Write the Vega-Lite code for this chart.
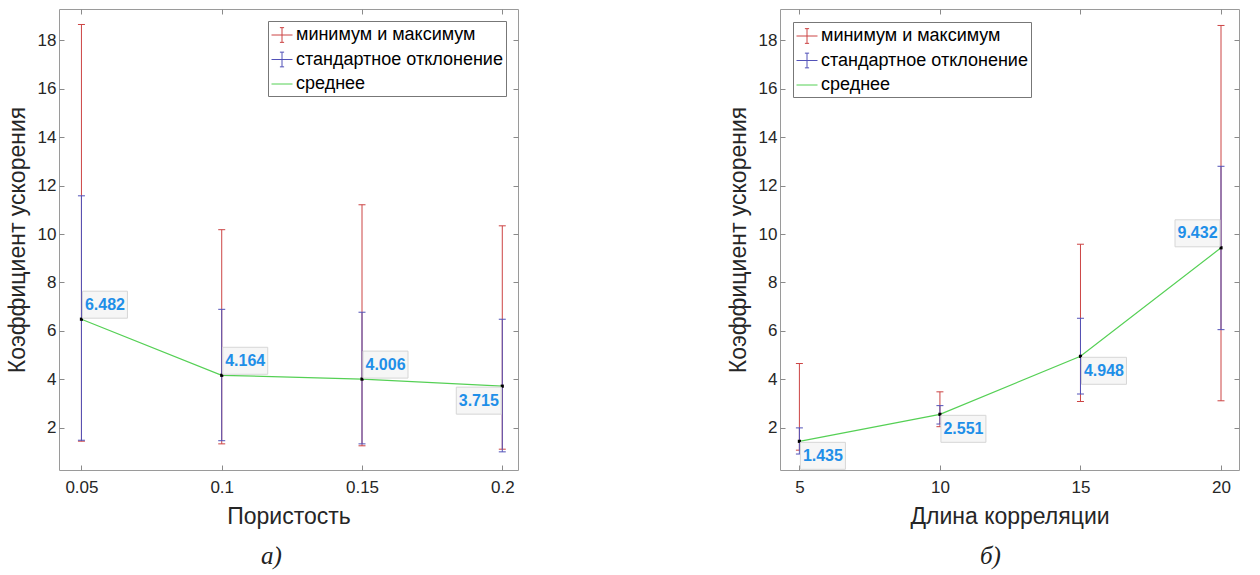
{
  "$schema": "https://vega.github.io/schema/vega-lite/v6.json",
  "background": "white",
  "padding": {"left": 5, "top": 8, "right": 5, "bottom": 0},
  "datasets": {
    "p1": [
      {"x": 0.05, "mn": 1.44, "mx": 18.66, "sdlo": 1.48, "sdhi": 11.58, "mean": 6.482},
      {"x": 0.1, "mn": 1.33, "mx": 10.18, "sdlo": 1.46, "sdhi": 6.89, "mean": 4.164},
      {"x": 0.15, "mn": 1.25, "mx": 11.21, "sdlo": 1.33, "sdhi": 6.77, "mean": 4.006},
      {"x": 0.2, "mn": 1.11, "mx": 10.34, "sdlo": 1.0, "sdhi": 6.48, "mean": 3.715}
    ],
    "p2": [
      {"x": 5, "mn": 1.07, "mx": 4.65, "sdlo": 0.91, "sdhi": 1.99, "mean": 1.435},
      {"x": 10, "mn": 2.04, "mx": 3.48, "sdlo": 2.15, "sdhi": 2.91, "mean": 2.551},
      {"x": 15, "mn": 3.08, "mx": 9.58, "sdlo": 3.39, "sdhi": 6.52, "mean": 4.948},
      {"x": 20, "mn": 3.11, "mx": 18.62, "sdlo": 6.05, "sdhi": 12.8, "mean": 9.432}
    ],
    "leg": [
      {"s": "минимум и максимум"},
      {"s": "стандартное отклонение"},
      {"s": "среднее"}
    ]
  },
  "spacing": 207,
  "resolve": {
    "scale": {"x": "independent", "y": "independent", "color": "independent", "shape": "independent"},
    "legend": {"color": "independent", "shape": "independent"}
  },
  "config": {
    "view": {"stroke": "#9a9a9a", "strokeWidth": 1},
    "axis": {
      "domain": false, "grid": false, "ticks": true, "tickSize": -5, "tickColor": "#8a8a8a",
      "labelFont": "Liberation Sans", "labelFontSize": 17, "labelColor": "#262626",
      "titleFont": "Liberation Sans", "titleFontSize": 23, "titleFontWeight": "normal", "titleColor": "#262626"
    },
    "title": {"font": "Liberation Serif", "fontStyle": "italic", "fontWeight": "normal", "fontSize": 25, "color": "#222"}
  },
  "hconcat": [
    {
      "width": 459, "height": 461,
      "title": {"text": "а)", "orient": "bottom", "anchor": "middle", "dx": -17, "offset": 16},
      "data": {"name": "p1"},
      "layer": [
        {
          "mark": {"type": "rule", "color": "#cc4444", "strokeWidth": 1},
          "encoding": {
            "x": {"field": "x", "type": "quantitative", "scale": {"domain": [0.042, 0.2056], "nice": false, "zero": false},
                  "axis": {"orient": "bottom", "title": "Пористость", "values": [0.05, 0.1, 0.15, 0.2], "format": "~g", "labelPadding": 14, "titlePadding": 10}},
            "y": {"field": "mn", "type": "quantitative", "scale": {"domain": [0.25, 19.3], "nice": false, "zero": false},
                  "axis": {"orient": "left", "title": "Коэффициент ускорения", "values": [2, 4, 6, 8, 10, 12, 14, 16, 18], "labelPadding": 8, "titlePadding": 8}},
            "y2": {"field": "mx"}
          }
        },
        {"mark": {"type": "point", "shape": "stroke", "size": 49, "filled": false, "color": "#cc4444", "strokeWidth": 1, "opacity": 1},
         "encoding": {"x": {"field": "x", "type": "quantitative", "axis": null}, "y": {"field": "mn", "type": "quantitative", "axis": null}}},
        {"mark": {"type": "point", "shape": "stroke", "size": 49, "filled": false, "color": "#cc4444", "strokeWidth": 1, "opacity": 1},
         "encoding": {"x": {"field": "x", "type": "quantitative", "axis": null}, "y": {"field": "mx", "type": "quantitative", "axis": null}}},
        {"mark": {"type": "rule", "color": "#5252b8", "strokeWidth": 1},
         "encoding": {"x": {"field": "x", "type": "quantitative", "axis": null}, "y": {"field": "sdlo", "type": "quantitative", "axis": null}, "y2": {"field": "sdhi"}}},
        {"mark": {"type": "point", "shape": "stroke", "size": 49, "filled": false, "color": "#5252b8", "strokeWidth": 1, "opacity": 1},
         "encoding": {"x": {"field": "x", "type": "quantitative", "axis": null}, "y": {"field": "sdlo", "type": "quantitative", "axis": null}}},
        {"mark": {"type": "point", "shape": "stroke", "size": 49, "filled": false, "color": "#5252b8", "strokeWidth": 1, "opacity": 1},
         "encoding": {"x": {"field": "x", "type": "quantitative", "axis": null}, "y": {"field": "sdhi", "type": "quantitative", "axis": null}}},
        {"mark": {"type": "line", "color": "#55d055", "strokeWidth": 1.2},
         "encoding": {
           "x": {"field": "x", "type": "quantitative", "axis": {"orient": "top", "labels": false, "title": null, "values": [0.05, 0.1, 0.15, 0.2]}},
           "y": {"field": "mean", "type": "quantitative", "axis": {"orient": "right", "labels": false, "title": null, "values": [2, 4, 6, 8, 10, 12, 14, 16, 18]}}
         }},
        {"mark": {"type": "square", "size": 10, "color": "#000", "opacity": 1},
         "encoding": {"x": {"field": "x", "type": "quantitative", "axis": null}, "y": {"field": "mean", "type": "quantitative", "axis": null}}},
        {"transform": [{"filter": "datum.x < 0.19"}],
         "mark": {"type": "point", "shape": "M-1,-0.6H1V0.6H-1Z", "size": 2025, "filled": true, "fill": "#f6f6f6", "stroke": "#d6d6d6", "strokeWidth": 1, "opacity": 1, "xOffset": 23.5, "yOffset": -14.5},
         "encoding": {"x": {"field": "x", "type": "quantitative", "axis": null}, "y": {"field": "mean", "type": "quantitative", "axis": null}}},
        {"transform": [{"filter": "datum.x > 0.19"}],
         "mark": {"type": "point", "shape": "M-1,-0.6H1V0.6H-1Z", "size": 2025, "filled": true, "fill": "#f6f6f6", "stroke": "#d6d6d6", "strokeWidth": 1, "opacity": 1, "xOffset": -23.5, "yOffset": 14.5},
         "encoding": {"x": {"field": "x", "type": "quantitative", "axis": null}, "y": {"field": "mean", "type": "quantitative", "axis": null}}},
        {"transform": [{"filter": "datum.x < 0.19"}],
         "mark": {"type": "text", "font": "Liberation Sans", "fontWeight": "bold", "fontSize": 16, "color": "#1f8fe8", "align": "center", "baseline": "middle", "dx": 23.5, "dy": -14.5},
         "encoding": {"x": {"field": "x", "type": "quantitative", "axis": null}, "y": {"field": "mean", "type": "quantitative", "axis": null}, "text": {"field": "mean", "type": "quantitative", "format": ".3f"}}},
        {"transform": [{"filter": "datum.x > 0.19"}],
         "mark": {"type": "text", "font": "Liberation Sans", "fontWeight": "bold", "fontSize": 16, "color": "#1f8fe8", "align": "center", "baseline": "middle", "dx": -23.5, "dy": 14.5},
         "encoding": {"x": {"field": "x", "type": "quantitative", "axis": null}, "y": {"field": "mean", "type": "quantitative", "axis": null}, "text": {"field": "mean", "type": "quantitative", "format": ".3f"}}},
        {"data": {"name": "leg"},
         "mark": {"type": "point", "filled": false, "size": 0, "opacity": 1, "strokeWidth": 1},
         "encoding": {
           "color": {"field": "s", "type": "nominal", "scale": {"domain": ["минимум и максимум", "стандартное отклонение", "среднее"], "range": ["#cc4444", "#5252b8", "#55d055"]},
                     "legend": {"title": null, "orient": "top-right", "offset": 12, "fillColor": "white", "strokeColor": "#777", "padding": 3, "labelFont": "Liberation Sans", "labelFontSize": 18, "labelColor": "#000", "labelLimit": 400, "symbolSize": 441, "symbolStrokeWidth": 1, "symbolOpacity": 1, "rowPadding": 3.5, "labelOffset": 3, "cornerRadius": 0}},
           "shape": {"field": "s", "type": "nominal", "scale": {"domain": ["минимум и максимум", "стандартное отклонение", "среднее"], "range": ["M-1,0H1M0,-0.7V0.7M-0.2,-0.7H0.2M-0.2,0.7H0.2", "M-1,0H1M0,-0.7V0.7M-0.2,-0.7H0.2M-0.2,0.7H0.2", "M-1,0H1"]},
                     "legend": {"title": null, "orient": "top-right", "offset": 12, "fillColor": "white", "strokeColor": "#777", "padding": 3, "labelFont": "Liberation Sans", "labelFontSize": 18, "labelColor": "#000", "labelLimit": 400, "symbolSize": 441, "symbolStrokeWidth": 1, "symbolOpacity": 1, "rowPadding": 3.5, "labelOffset": 3, "cornerRadius": 0}}
         }}
      ]
    },
    {
      "width": 459, "height": 461,
      "title": {"text": "б)", "orient": "bottom", "anchor": "middle", "dx": -19, "offset": 16},
      "data": {"name": "p2"},
      "layer": [
        {
          "mark": {"type": "rule", "color": "#cc4444", "strokeWidth": 1},
          "encoding": {
            "x": {"field": "x", "type": "quantitative", "scale": {"domain": [4.31, 20.64], "nice": false, "zero": false},
                  "axis": {"orient": "bottom", "title": "Длина корреляции", "values": [5, 10, 15, 20], "labelPadding": 14, "titlePadding": 10}},
            "y": {"field": "mn", "type": "quantitative", "scale": {"domain": [0.25, 19.3], "nice": false, "zero": false},
                  "axis": {"orient": "left", "title": "Коэффициент ускорения", "values": [2, 4, 6, 8, 10, 12, 14, 16, 18], "labelPadding": 8, "titlePadding": 8}},
            "y2": {"field": "mx"}
          }
        },
        {"mark": {"type": "point", "shape": "stroke", "size": 49, "filled": false, "color": "#cc4444", "strokeWidth": 1, "opacity": 1},
         "encoding": {"x": {"field": "x", "type": "quantitative", "axis": null}, "y": {"field": "mn", "type": "quantitative", "axis": null}}},
        {"mark": {"type": "point", "shape": "stroke", "size": 49, "filled": false, "color": "#cc4444", "strokeWidth": 1, "opacity": 1},
         "encoding": {"x": {"field": "x", "type": "quantitative", "axis": null}, "y": {"field": "mx", "type": "quantitative", "axis": null}}},
        {"mark": {"type": "rule", "color": "#5252b8", "strokeWidth": 1},
         "encoding": {"x": {"field": "x", "type": "quantitative", "axis": null}, "y": {"field": "sdlo", "type": "quantitative", "axis": null}, "y2": {"field": "sdhi"}}},
        {"mark": {"type": "point", "shape": "stroke", "size": 49, "filled": false, "color": "#5252b8", "strokeWidth": 1, "opacity": 1},
         "encoding": {"x": {"field": "x", "type": "quantitative", "axis": null}, "y": {"field": "sdlo", "type": "quantitative", "axis": null}}},
        {"mark": {"type": "point", "shape": "stroke", "size": 49, "filled": false, "color": "#5252b8", "strokeWidth": 1, "opacity": 1},
         "encoding": {"x": {"field": "x", "type": "quantitative", "axis": null}, "y": {"field": "sdhi", "type": "quantitative", "axis": null}}},
        {"mark": {"type": "line", "color": "#55d055", "strokeWidth": 1.2},
         "encoding": {
           "x": {"field": "x", "type": "quantitative", "axis": {"orient": "top", "labels": false, "title": null, "values": [5, 10, 15, 20]}},
           "y": {"field": "mean", "type": "quantitative", "axis": {"orient": "right", "labels": false, "title": null, "values": [2, 4, 6, 8, 10, 12, 14, 16, 18]}}
         }},
        {"mark": {"type": "square", "size": 10, "color": "#000", "opacity": 1},
         "encoding": {"x": {"field": "x", "type": "quantitative", "axis": null}, "y": {"field": "mean", "type": "quantitative", "axis": null}}},
        {"transform": [{"filter": "datum.x < 19"}],
         "mark": {"type": "point", "shape": "M-1,-0.6H1V0.6H-1Z", "size": 2025, "filled": true, "fill": "#f6f6f6", "stroke": "#d6d6d6", "strokeWidth": 1, "opacity": 1, "xOffset": 23.5, "yOffset": 14.5},
         "encoding": {"x": {"field": "x", "type": "quantitative", "axis": null}, "y": {"field": "mean", "type": "quantitative", "axis": null}}},
        {"transform": [{"filter": "datum.x > 19"}],
         "mark": {"type": "point", "shape": "M-1,-0.6H1V0.6H-1Z", "size": 2025, "filled": true, "fill": "#f6f6f6", "stroke": "#d6d6d6", "strokeWidth": 1, "opacity": 1, "xOffset": -23.5, "yOffset": -14.5},
         "encoding": {"x": {"field": "x", "type": "quantitative", "axis": null}, "y": {"field": "mean", "type": "quantitative", "axis": null}}},
        {"transform": [{"filter": "datum.x < 19"}],
         "mark": {"type": "text", "font": "Liberation Sans", "fontWeight": "bold", "fontSize": 16, "color": "#1f8fe8", "align": "center", "baseline": "middle", "dx": 23.5, "dy": 14.5},
         "encoding": {"x": {"field": "x", "type": "quantitative", "axis": null}, "y": {"field": "mean", "type": "quantitative", "axis": null}, "text": {"field": "mean", "type": "quantitative", "format": ".3f"}}},
        {"transform": [{"filter": "datum.x > 19"}],
         "mark": {"type": "text", "font": "Liberation Sans", "fontWeight": "bold", "fontSize": 16, "color": "#1f8fe8", "align": "center", "baseline": "middle", "dx": -23.5, "dy": -14.5},
         "encoding": {"x": {"field": "x", "type": "quantitative", "axis": null}, "y": {"field": "mean", "type": "quantitative", "axis": null}, "text": {"field": "mean", "type": "quantitative", "format": ".3f"}}},
        {"data": {"name": "leg"},
         "mark": {"type": "point", "filled": false, "size": 0, "opacity": 1, "strokeWidth": 1},
         "encoding": {
           "color": {"field": "s", "type": "nominal", "scale": {"domain": ["минимум и максимум", "стандартное отклонение", "среднее"], "range": ["#cc4444", "#5252b8", "#55d055"]},
                     "legend": {"title": null, "orient": "top-left", "offset": 13, "fillColor": "white", "strokeColor": "#777", "padding": 3, "labelFont": "Liberation Sans", "labelFontSize": 18, "labelColor": "#000", "labelLimit": 400, "symbolSize": 441, "symbolStrokeWidth": 1, "symbolOpacity": 1, "rowPadding": 3.5, "labelOffset": 3, "cornerRadius": 0}},
           "shape": {"field": "s", "type": "nominal", "scale": {"domain": ["минимум и максимум", "стандартное отклонение", "среднее"], "range": ["M-1,0H1M0,-0.7V0.7M-0.2,-0.7H0.2M-0.2,0.7H0.2", "M-1,0H1M0,-0.7V0.7M-0.2,-0.7H0.2M-0.2,0.7H0.2", "M-1,0H1"]},
                     "legend": {"title": null, "orient": "top-left", "offset": 13, "fillColor": "white", "strokeColor": "#777", "padding": 3, "labelFont": "Liberation Sans", "labelFontSize": 18, "labelColor": "#000", "labelLimit": 400, "symbolSize": 441, "symbolStrokeWidth": 1, "symbolOpacity": 1, "rowPadding": 3.5, "labelOffset": 3, "cornerRadius": 0}}
         }}
      ]
    }
  ]
}
